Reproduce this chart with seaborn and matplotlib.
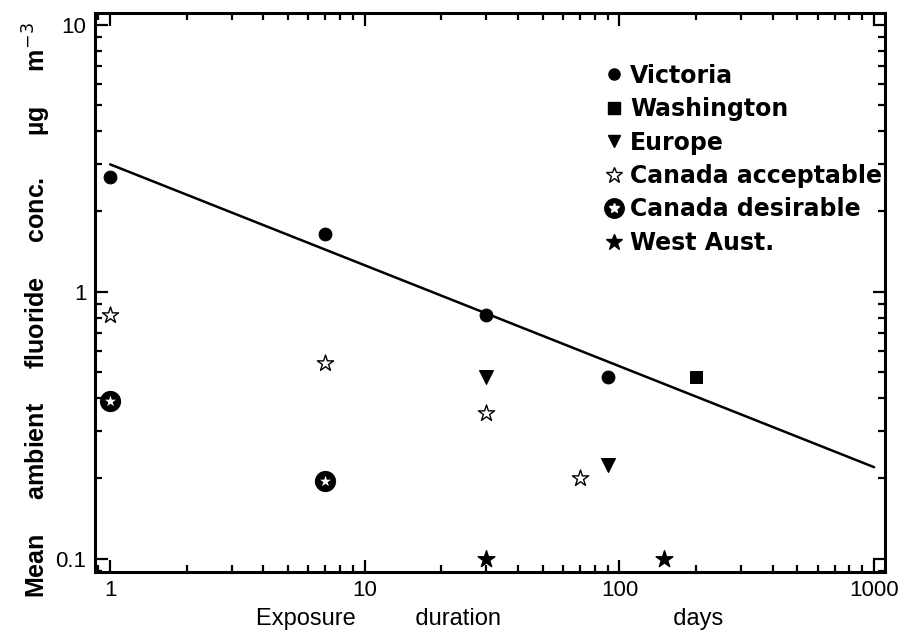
import matplotlib
matplotlib.use("Agg")
import matplotlib.pyplot as plt
from matplotlib.lines import Line2D
from matplotlib.legend_handler import HandlerTuple
from matplotlib.ticker import FixedLocator, FixedFormatter, LogLocator, NullFormatter
import seaborn as sns

# data (days, ug m-3)
victoria_x = [1, 7, 30, 90]
victoria_y = [2.7, 1.65, 0.82, 0.48]
washington_x = [200]
washington_y = [0.48]
europe_x = [30, 90]
europe_y = [0.48, 0.225]
can_accept_x = [1, 7, 30, 70]
can_accept_y = [0.82, 0.54, 0.35, 0.2]
can_desire_x = [1, 7]
can_desire_y = [0.39, 0.195]
west_aust_x = [30, 150]
west_aust_y = [0.1, 0.1]
fit_x = [1, 1000]
fit_y = [3.0, 0.22]

x_ticks = [1, 10, 100, 1000]
x_ticklabels = ["1", "10", "100", "1000"]
y_ticks = [0.1, 1, 10]
y_ticklabels = ["0.1", "1", "10"]

sns.set_style("ticks", {"axes.edgecolor": "black", "xtick.color": "black",
                        "ytick.color": "black", "text.color": "black",
                        "axes.labelcolor": "black"})
plt.rcParams['font.family'] = ['Liberation Sans', 'DejaVu Sans']

fig = plt.figure(figsize=(9.11, 6.37), dpi=100)
ax = fig.add_axes([0.104, 0.102, 0.867, 0.878])

# fitted line
sns.lineplot(x=fit_x, y=fit_y, color="black", linewidth=1.8, ax=ax)

# data points
sns.scatterplot(x=victoria_x, y=victoria_y, marker="o", s=85, color="black", edgecolor="black", ax=ax)
sns.scatterplot(x=washington_x, y=washington_y, marker="s", s=80, color="black", edgecolor="black", ax=ax)
sns.scatterplot(x=europe_x, y=europe_y, marker="v", s=100, color="black", edgecolor="black", ax=ax)
sns.scatterplot(x=can_accept_x, y=can_accept_y, marker="*", s=150, color="white",
                edgecolor="black", linewidth=1.0, ax=ax)
sns.scatterplot(x=can_desire_x, y=can_desire_y, marker="o", s=200, color="black", edgecolor="black", ax=ax)
sns.scatterplot(x=can_desire_x, y=can_desire_y, marker="*", s=70, color="white", edgecolor="white",
                linewidth=0, ax=ax)
sns.scatterplot(x=west_aust_x, y=west_aust_y, marker="*", s=160, color="black", edgecolor="black", ax=ax)

ax.set_xscale("log")
ax.set_yscale("log")
ax.set_xlim(0.87, 1100)
ax.set_ylim(0.089, 11.1)

ax.xaxis.set_major_locator(FixedLocator(x_ticks))
ax.xaxis.set_major_formatter(FixedFormatter(x_ticklabels))
ax.yaxis.set_major_locator(FixedLocator(y_ticks))
ax.yaxis.set_major_formatter(FixedFormatter(y_ticklabels))
for axis in (ax.xaxis, ax.yaxis):
    axis.set_minor_locator(LogLocator(base=10, subs=range(2, 10)))
    axis.set_minor_formatter(NullFormatter())

ax.tick_params(which="both", direction="in", top=True, right=True, width=1.6, labelsize=16)
ax.tick_params(which="major", length=9, pad=6)
ax.tick_params(which="minor", length=5)
for sp in ax.spines.values():
    sp.set_linewidth(2.2)
    sp.set_visible(True)

ax.set_xlabel("Exposure" + " " * 9 + "duration" + " " * 26 + "days", fontsize=17, labelpad=5)
ax.set_ylabel("Mean     ambient     fluoride     conc.      µg     m$^{-3}$",
              fontsize=18, fontweight="bold", labelpad=2, y=0.469)

# legend
h_vic = Line2D([], [], marker="o", color="black", linestyle="none", markersize=8)
h_wash = Line2D([], [], marker="s", color="black", linestyle="none", markersize=8)
h_eur = Line2D([], [], marker="v", color="black", linestyle="none", markersize=9)
h_acc = Line2D([], [], marker="*", markerfacecolor="white", markeredgecolor="black",
               linestyle="none", markersize=12)
h_des_ring = Line2D([], [], marker="o", color="black", linestyle="none", markersize=14)
h_des_star = Line2D([], [], marker="*", color="white", linestyle="none", markersize=7)
h_wa = Line2D([], [], marker="*", color="black", linestyle="none", markersize=12)

leg = ax.legend([h_vic, h_wash, h_eur, h_acc, (h_des_ring, h_des_star), h_wa],
                ["Victoria", "Washington", "Europe", "Canada acceptable", "Canada desirable", "West Aust."],
                handler_map={tuple: HandlerTuple(ndivide=1, pad=0)},
                loc="upper right", bbox_to_anchor=(1.012, 0.93), frameon=False,
                prop={"family": "DejaVu Sans", "weight": "bold", "size": 17},
                handlelength=0.8, handletextpad=0.3, labelspacing=0.4, borderaxespad=0.1)

fig.savefig("out.png", dpi=100, facecolor="white")
